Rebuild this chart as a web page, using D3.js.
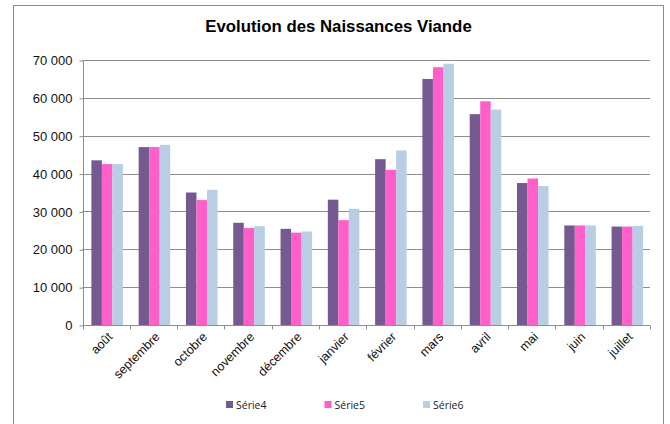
<!DOCTYPE html>
<html><head><meta charset="utf-8">
<script src="https://cdn.jsdelivr.net/npm/d3@7"></script>
<style>body{margin:0;background:#fff}svg{display:block}</style>
</head><body>
<script>
const categories = ["août","septembre","octobre","novembre","décembre","janvier","février","mars","avril","mai","juin","juillet"];
const serie4 = [43500,47000,35000,27000,25400,33100,43800,65000,55700,37500,26300,26000];
const serie5 = [42500,47000,33000,25600,24400,27700,41000,68100,59100,38700,26300,26000];
const serie6 = [42500,47600,35700,26100,24700,30700,46100,69000,56900,36700,26300,26200];
const seriesNames = ["Série4","Série5","Série6"];
const colors = ["#745A91","#FF5FC8","#B9CDE5"];
const yTicks = [0,10000,20000,30000,40000,50000,60000,70000];
const series = [serie4, serie5, serie6];

const W = 670, H = 424;
const svg = d3.select("body").append("svg").attr("width", W).attr("height", H);
svg.append("rect").attr("x",13.5).attr("y",5.5).attr("width",650).attr("height",430)
  .attr("fill","#fff").attr("stroke","#8c8c8c").attr("stroke-width",1);

svg.append("text").attr("x",338.5).attr("y",32).attr("text-anchor","middle")
  .attr("font-family","Liberation Sans, Arial, sans-serif").attr("font-weight","bold")
  .attr("font-size",16.8).attr("fill","#000").text("Evolution des Naissances Viande");

const pLeft = 82.5, pRight = 650, pTop = 60, pBottom = 325;
const x = d3.scaleBand().domain(categories).range([pLeft, pRight]).padding(0);
const y = d3.scaleLinear().domain([0,70000]).range([pBottom, pTop]);
const bw = x.bandwidth()/4.5;
const xs = d3.scaleBand().domain(seriesNames).range([0, 3*bw]).padding(0);
const groupOff = (x.bandwidth() - 3*bw)/2 + 1;

const fmt = v => d3.format(",")(v).replace(/,/g, " ");
// gridlines
svg.append("g").selectAll("line").data(yTicks.filter(d=>d>0)).join("line")
  .attr("x1", pLeft).attr("x2", pRight)
  .attr("y1", d=>Math.round(y(d))+0.5).attr("y2", d=>Math.round(y(d))+0.5)
  .attr("stroke","#8e8e8e").attr("stroke-width",1);

// bars
series.forEach((s, si) => {
  svg.append("g").selectAll("rect").data(s).join("rect")
    .attr("x", (d,i) => x(categories[i]) + groupOff + xs(seriesNames[si]))
    .attr("width", bw)
    .attr("y", d => y(d))
    .attr("height", d => y(0) - y(d))
    .attr("fill", colors[si]);
});

// y axis
const yAxis = d3.axisLeft(y).tickValues(yTicks).tickFormat(fmt).tickSize(4).tickPadding(7);
const gy = svg.append("g").attr("transform", `translate(${Math.round(pLeft)+0.5},0.5)`).call(yAxis);
gy.select(".domain").attr("stroke","#8e8e8e").attr("d", `M0,${y(70000)}V${y(0)}`);
gy.selectAll(".tick line").attr("stroke","#8e8e8e");
gy.selectAll("text").attr("font-family","Liberation Sans, Arial, sans-serif").attr("font-size",13).attr("fill","#111");

// x axis
const gx = svg.append("g").attr("transform", `translate(0,${Math.round(pBottom)+0.5})`);
gx.append("line").attr("x1", pLeft).attr("x2", pRight).attr("stroke","#8e8e8e");
const bounds = categories.map(c => x(c)).concat([pRight]);
gx.selectAll("line.t").data(bounds).join("line").attr("class","t")
  .attr("x1", d=>Math.round(d)+0.5).attr("x2", d=>Math.round(d)+0.5).attr("y1",0).attr("y2",4)
  .attr("stroke","#8e8e8e");
gx.selectAll("text").data(categories).join("text")
  .attr("transform", d => `translate(${x(d)+x.bandwidth()/2+4},9) rotate(-45)`)
  .attr("text-anchor","end").attr("dy","0.35em")
  .attr("font-family","Liberation Sans, Arial, sans-serif").attr("font-size",12.5).attr("fill","#111")
  .text(d=>d);

// legend
const legX = [226, 324.5, 423];
const lg = svg.append("g");
seriesNames.forEach((n,i) => {
  lg.append("rect").attr("x", legX[i]).attr("y", 401).attr("width",7).attr("height",7).attr("fill", colors[i]);
  lg.append("text").attr("x", legX[i]+10).attr("y", 409)
    .attr("font-family","Open Sans, Liberation Sans, sans-serif").attr("font-size",10.5).attr("fill","#222").text(n);
});
</script>
</body></html>
